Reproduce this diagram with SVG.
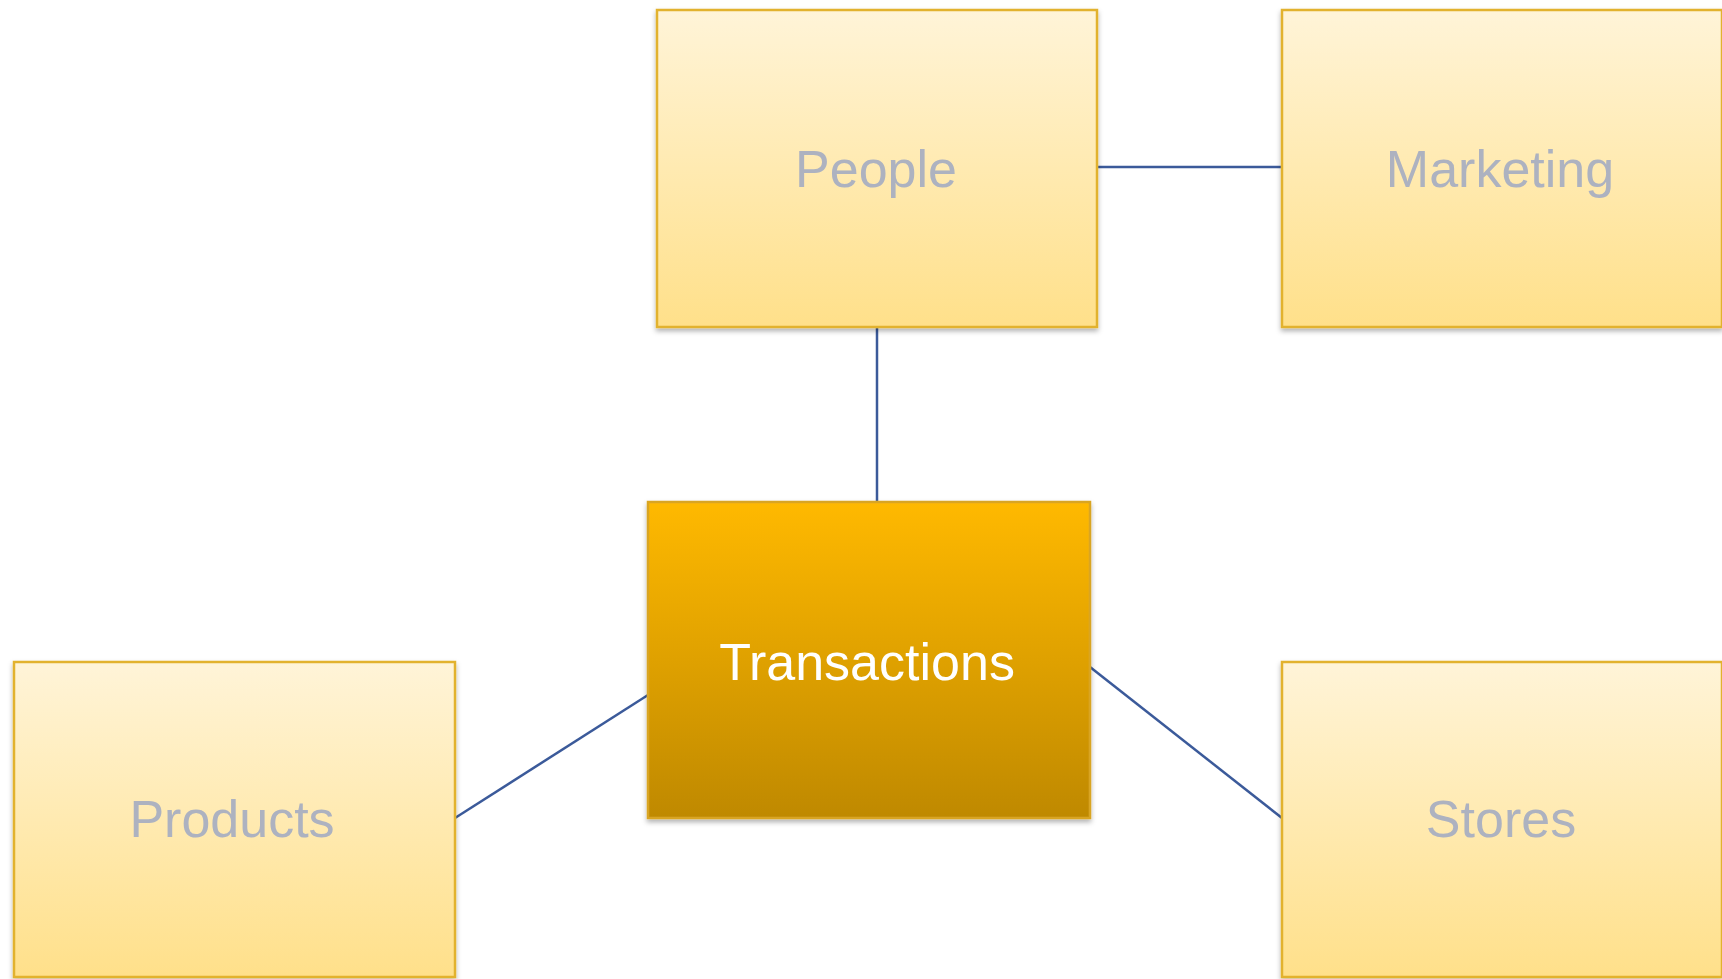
<svg xmlns="http://www.w3.org/2000/svg" width="1722" height="979" viewBox="0 0 1722 979">
  <defs>
    <linearGradient id="lightFill" x1="0" y1="0" x2="0" y2="1">
      <stop offset="0" stop-color="#FFF4D8"/>
      <stop offset="1" stop-color="#FFE08A"/>
    </linearGradient>
    <linearGradient id="darkFill" x1="0" y1="0" x2="0" y2="1">
      <stop offset="0" stop-color="#FFB900"/>
      <stop offset="1" stop-color="#BF8900"/>
    </linearGradient>
    <filter id="shadow" x="-5%" y="-5%" width="110%" height="115%">
      <feDropShadow dx="0" dy="3" stdDeviation="2.5" flood-color="#000" flood-opacity="0.3"/>
    </filter>
  </defs>
  <style>
    .box { stroke: #E2B22E; stroke-width: 2.5; filter: url(#shadow); }
    .light { fill: url(#lightFill); }
    .dark { fill: url(#darkFill); stroke: #D9A520; }
    .label { font-family: "Liberation Sans", Arial, sans-serif; font-size: 52px; text-anchor: middle; }
    .muted { fill: #ADB2C0; }
    .strong { fill: #FFFFFF; }
    .link { stroke: #3B5A9A; stroke-width: 2.5; fill: none; }
  </style>
  <rect width="1722" height="979" fill="#FFFFFF"/>

  <!-- connectors -->
  <g id="connectors">
    <line class="link" x1="1097" y1="167" x2="1282" y2="167"/>
    <line class="link" x1="877" y1="327" x2="877" y2="502"/>
    <line class="link" x1="648" y1="695" x2="455" y2="818"/>
    <line class="link" x1="1090" y1="667" x2="1282" y2="818"/>
  </g>

  <g id="people">
    <rect class="box light" x="657" y="10" width="440" height="317"/>
    <text class="label muted" x="876" y="187">People</text>
  </g>

  <g id="marketing">
    <rect class="box light" x="1282" y="10" width="440" height="317"/>
    <text class="label muted" x="1500" y="187">Marketing</text>
  </g>

  <g id="transactions">
    <rect class="box dark" x="648" y="502" width="442" height="316"/>
    <text class="label strong" x="867" y="680">Transactions</text>
  </g>

  <g id="products">
    <rect class="box light" x="14" y="662" width="441" height="315"/>
    <text class="label muted" x="232" y="837">Products</text>
  </g>

  <g id="stores">
    <rect class="box light" x="1282" y="662" width="440" height="315"/>
    <text class="label muted" x="1501" y="837">Stores</text>
  </g>
</svg>
